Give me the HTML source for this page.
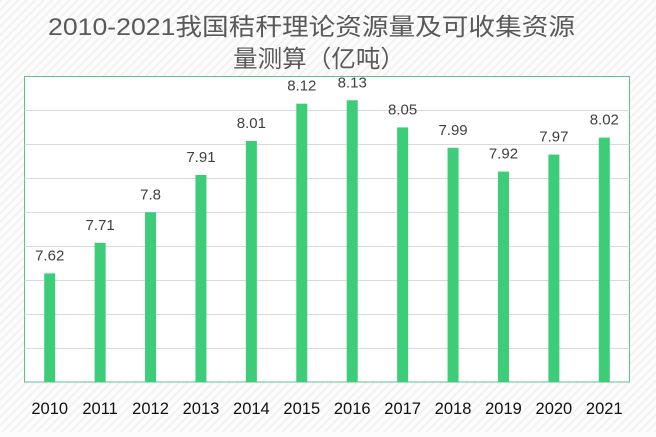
<!DOCTYPE html>
<html><head><meta charset="utf-8">
<style>
html,body{margin:0;padding:0;}
body{width:656px;height:432px;overflow:hidden;background:#fcfcfc;font-family:"Liberation Sans","Noto Sans CJK SC",sans-serif;}
</style></head>
<body>
<svg id="chart" width="656" height="432" xmlns="http://www.w3.org/2000/svg">
  <defs>
    <pattern id="stripes" width="6" height="6" patternUnits="userSpaceOnUse" patternTransform="rotate(45)">
      <rect width="6" height="6" fill="#fdfdfd"/>
      <rect width="2" height="6" fill="#f2f2f2"/>
    </pattern>
  </defs>
  <rect width="656" height="432" fill="url(#stripes)"/>
  <text x="48" y="35" textLength="527" lengthAdjust="spacingAndGlyphs" font-size="24" fill="#595959">2010-2021我国秸秆理论资源量及可收集资源</text>
  <text x="233" y="67" textLength="172" lengthAdjust="spacingAndGlyphs" font-size="24" fill="#595959">量测算（亿吨）</text>
  <rect x="24.5" y="76.5" width="605" height="305.5" fill="#ffffff" stroke="#5cc48a" stroke-width="1"/>
  <g id="grid"></g>
  <g id="bars"></g>
  <g id="labels"></g>
  <g id="xticks"></g>
</svg>
<script>
const categories = ["2010","2011","2012","2013","2014","2015","2016","2017","2018","2019","2020","2021"];
const values = [7.62,7.71,7.8,7.91,8.01,8.12,8.13,8.05,7.99,7.92,7.97,8.02];
const valueLabels = ["7.62","7.71","7.8","7.91","8.01","8.12","8.13","8.05","7.99","7.92","7.97","8.02"];
const yMin = 7.3, yMax = 8.2, yStep = 0.1;

const NS = "http://www.w3.org/2000/svg";
const L = 24.5, R = 629.5, T = 76.5, B = 382;
const band = (R - L) / categories.length;
function xScale(i){ return L + band * (i + 0.5); }
function yScale(v){ return B - (v - yMin) / (yMax - yMin) * (B - T); }
function mk(tag, attrs){ const e = document.createElementNS(NS, tag); for (const k in attrs) e.setAttribute(k, attrs[k]); return e; }

const grid = document.getElementById("grid");
for (let v = yMin + yStep; v < yMax - 1e-9; v += yStep) {
  const y = Math.round(yScale(v)) + 0.5;
  const ln = mk("line", {x1: L, x2: R, y1: y, y2: y, stroke: "#d9d9d9", "stroke-width": 1});
  
  
  grid.appendChild(ln);
}

const bars = document.getElementById("bars");
const labels = document.getElementById("labels");
const xt = document.getElementById("xticks");
values.forEach((v, i) => {
  const cx = xScale(i), top = yScale(v), w = 11;
  const r = mk("rect", {x: cx - w/2, y: top, width: w, height: B - top, fill: "#3dcc78"});
  
  
  bars.appendChild(r);
  const t = mk("text", {x: cx, y: top - 13, "text-anchor": "middle", "font-size": "15", fill: "#404040"});
  t.textContent = valueLabels[i];
  
  
  labels.appendChild(t);
  const c = mk("text", {x: cx, y: 414, "text-anchor": "middle", "font-size": "16.5", fill: "#111111"});
  c.textContent = categories[i];
  
  
  xt.appendChild(c);
});
</script>
</body></html>
